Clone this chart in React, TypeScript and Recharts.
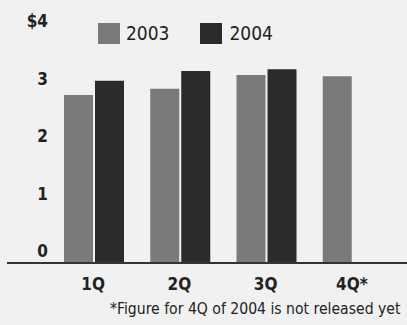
import { BarChart, Bar, XAxis, YAxis } from 'recharts';

const quarters = ['1Q', '2Q', '3Q', '4Q*'];
const values2003 = [2.92, 3.03, 3.27, 3.25];
const values2004: (number | null)[] = [3.17, 3.34, 3.37, null];
const yTicks = [0, 1, 2, 3, 4];
const yTickLabels = ['0', '1', '2', '3', '$4'];

const data = quarters.map((q, i) => ({ q, y2003: values2003[i], y2004: values2004[i] }));

const FONT = '"DejaVu Sans Condensed", "Liberation Sans Narrow", "DejaVu Sans", sans-serif';
const GRAY = '#7a7a7a';
const DARK = '#2b2b2b';
const INK = '#222';

const YTick = (props: any) => {
  const i = yTicks.indexOf(props.payload.value);
  return (
    <text x={48} y={props.y - 6} textAnchor="end" fill={INK} fontSize={17} fontWeight="bold" fontFamily={FONT} style={{ fontStretch: 'condensed' }}>
      {yTickLabels[i]}
    </text>
  );
};

const XTick = (props: any) => (
  <text x={props.x - 1} y={props.y + 19} textAnchor="middle" fill={INK} fontSize={17} fontWeight="bold" fontFamily={FONT} style={{ fontStretch: 'condensed' }}>
    {props.payload.value}
  </text>
);

export default function App() {
  return (
    <div style={{ position: 'relative', width: 407, height: 325, background: '#f1f1f1', fontFamily: FONT, fontStretch: 'condensed', color: INK }}>
      <style>{'body{margin:0}'}</style>
      <BarChart width={407} height={325} data={data} margin={{ top: 33, right: 0, bottom: 32, left: 6 }} barSize={29} barGap={2}>
        <YAxis width={1} domain={[0, 4]} ticks={yTicks} axisLine={false} tickLine={false} tick={YTick} />
        <XAxis
          dataKey="q"
          height={30}
          padding={{ left: 44, right: 11 }}
          axisLine={{ stroke: '#333', strokeWidth: 2 }}
          tickLine={false}
          tick={XTick}
        />
        <Bar dataKey="y2003" fill={GRAY} isAnimationActive={false} />
        <Bar dataKey="y2004" fill={DARK} isAnimationActive={false} />
      </BarChart>
      <div style={{ position: 'absolute', left: 98, top: 22, display: 'flex', alignItems: 'center', fontSize: 19 }}>
        <span style={{ width: 22, height: 21, background: GRAY, display: 'inline-block', marginRight: 6 }} />
        <span style={{ marginRight: 30 }}>2003</span>
        <span style={{ width: 22, height: 21, background: DARK, display: 'inline-block', marginRight: 8 }} />
        <span>2004</span>
      </div>
      <div style={{ position: 'absolute', left: 110, top: 300, fontSize: 15.6, whiteSpace: 'nowrap' }}>
        *Figure for 4Q of 2004 is not released yet
      </div>
    </div>
  );
}
